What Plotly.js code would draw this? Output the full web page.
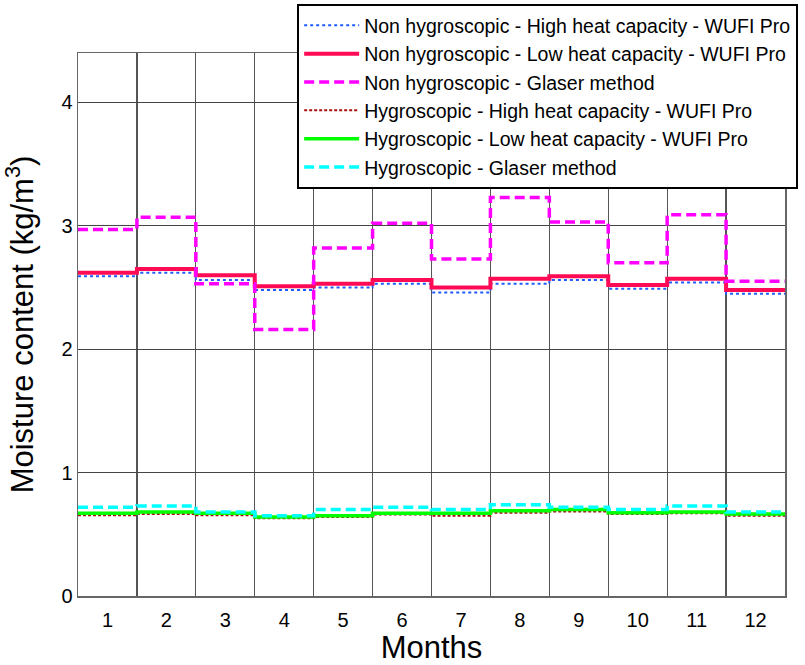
<!DOCTYPE html>
<html>
<head>
<meta charset="utf-8">
<script src="https://cdn.plot.ly/plotly-3.0.1.min.js"></script>
<style>html,body{margin:0;padding:0;background:#fff;}#chart{width:805px;height:665px;}</style>
</head>
<body>
<div id="chart"></div>
<script>
const months = [1,2,3,4,5,6,7,8,9,10,11,12];
const monthLabels = ["1","2","3","4","5","6","7","8","9","10","11","12"];
const nonHygHigh = [2.59,2.62,2.56,2.48,2.50,2.53,2.46,2.53,2.56,2.49,2.54,2.45];
const nonHygLow  = [2.62,2.65,2.60,2.51,2.53,2.56,2.50,2.57,2.59,2.52,2.57,2.48];
const nonHygGlaser = [2.97,3.07,2.53,2.16,2.82,3.02,2.73,3.23,3.03,2.70,3.09,2.55];
const hygHigh = [0.655,0.665,0.655,0.63,0.64,0.66,0.65,0.675,0.685,0.665,0.67,0.65];
const hygLow  = [0.67,0.68,0.67,0.64,0.65,0.67,0.67,0.69,0.70,0.675,0.68,0.665];
const hygGlaser = [0.72,0.73,0.68,0.65,0.70,0.72,0.70,0.74,0.72,0.70,0.73,0.68];
const seriesNames = [
  "Non hygroscopic - High heat capacity - WUFI Pro",
  "Non hygroscopic - Low heat capacity - WUFI Pro",
  "Non hygroscopic - Glaser method",
  "Hygroscopic - High heat capacity - WUFI Pro",
  "Hygroscopic - Low heat capacity - WUFI Pro",
  "Hygroscopic - Glaser method"
];
const seriesData = [nonHygHigh, nonHygLow, nonHygGlaser, hygHigh, hygLow, hygGlaser];
const styles = [
  {color:"#1f5cff", width:2, dash:"3px,3px"},
  {color:"#ff0a55", width:4, dash:"solid"},
  {color:"#ff00ff", width:3.5, dash:"10px,5px"},
  {color:"#a80f0f", width:2, dash:"3px,2px"},
  {color:"#00ff00", width:3.5, dash:"solid"},
  {color:"#00ffff", width:3.5, dash:"10px,5px"}
];
// step edges: each month spans [m-0.5, m+0.5]
const edges = months.map(m => m - 0.5).concat([months[months.length-1] + 0.5]);
const traces = seriesData.map((vals, i) => ({
  x: edges,
  y: vals.concat([vals[vals.length-1]]),
  type: "scatter",
  mode: "lines",
  name: seriesNames[i],
  line: {shape: "hv", color: styles[i].color, width: styles[i].width, dash: styles[i].dash}
}));
const font = "Liberation Sans, Arial, sans-serif";
const layout = {
  width: 805, height: 665,
  margin: {l:78, r:20, t:53, b:69, autoexpand:false},
  paper_bgcolor: "#fff", plot_bgcolor: "#fff",
  font: {family: font, color: "#000", size: 19},
  showlegend: true,
  legend: {
    x: 0.31, xanchor: "left", y: 1.09, yanchor: "top",
    bordercolor: "#000", borderwidth: 2, bgcolor: "#fff",
    font: {family: font, size: 19.5, color: "#000"},
    itemwidth: 55,
    tracegroupgap: 0
  },
  xaxis: {
    range: [0.5, 12.5],
    tickmode: "array", tickvals: months, ticktext: monthLabels,
    showgrid: false, zeroline: false,
    showline: true, mirror: true, linecolor: "#666", linewidth: 1.5,
    ticks: "", tickfont: {family: font, size: 20, color: "#000"},
    ticklabelstandoff: 5,
    minor: {tickmode: "linear", tick0: 0.5, dtick: 1, showgrid: true, gridcolor: "#555", gridwidth: 1.3, ticks: ""},
    title: {text: "Months", font: {family: font, size: 31, color: "#000"}, standoff: 12}
  },
  yaxis: {
    range: [0, 4.4],
    tickmode: "array", tickvals: [0,1,2,3,4], ticktext: ["0","1","2","3","4"],
    showgrid: true, gridcolor: "#444", gridwidth: 1.3, zeroline: false,
    showline: true, mirror: true, linecolor: "#666", linewidth: 1.5,
    ticks: "", tickfont: {family: font, size: 20, color: "#000"},
    title: {text: "Moisture content (kg/m<sup>3</sup>)", font: {family: font, size: 31, color: "#000"}, standoff: 20}
  }
};
Plotly.newPlot("chart", traces, layout, {displayModeBar: false, staticPlot: true});
</script>
</body>
</html>
